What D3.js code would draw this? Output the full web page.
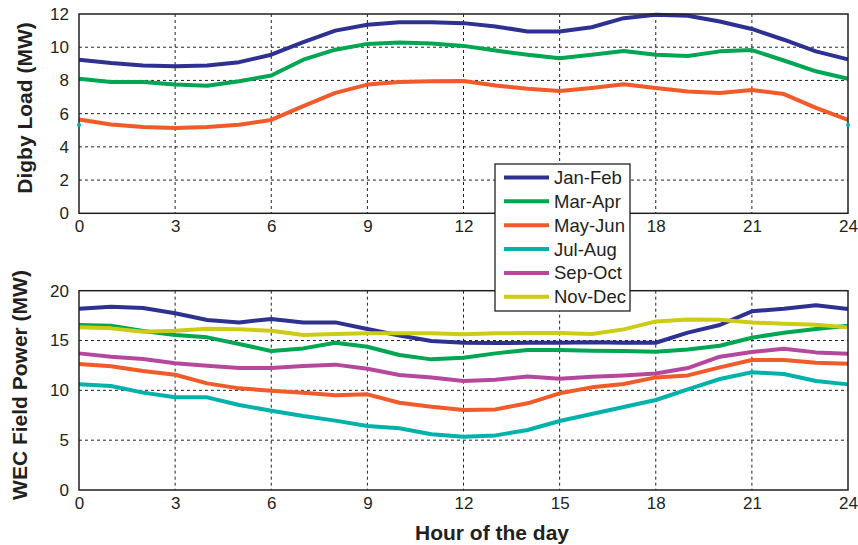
<!DOCTYPE html>
<html><head><meta charset="utf-8">
<script src="https://cdn.jsdelivr.net/npm/d3@7"></script>
<style>body{margin:0;background:#fff}svg{display:block}text{font-family:"Liberation Sans",Arial,sans-serif;fill:#231f20}</style>
</head><body><svg id="c" width="858" height="545"></svg>
<script>
const hours = d3.range(0, 25);
const seriesNames = ["Jan-Feb","Mar-Apr","May-Jun","Jul-Aug","Sep-Oct","Nov-Dec"];
const seriesColors = ["#2e3192","#00a651","#f15a29","#00b2a9","#b5489c","#cccc14"];
const xTicks = [0,3,6,9,12,15,18,21,24];
const xTicksTopShown = [0,3,6,9,12,18,21,24]; // "15" is hidden behind the legend
const loadTicks = [0,2,4,6,8,10,12];
const wecTicks = [0,5,10,15,20];

// Digby load (MW)
const loadJanFeb = [9.25,9.05,8.9,8.85,8.9,9.1,9.55,10.3,11.0,11.35,11.5,11.5,11.45,11.25,10.95,10.95,11.2,11.75,11.95,11.9,11.55,11.1,10.45,9.75,9.27];
const loadMarApr = [8.1,7.9,7.9,7.75,7.68,7.95,8.3,9.25,9.85,10.2,10.28,10.22,10.08,9.8,9.55,9.33,9.55,9.77,9.55,9.47,9.75,9.83,9.2,8.55,8.1];
const loadMayJun = [5.65,5.35,5.2,5.13,5.2,5.33,5.62,6.45,7.25,7.75,7.9,7.95,7.96,7.7,7.5,7.36,7.55,7.77,7.55,7.33,7.25,7.42,7.18,6.35,5.62];
const loadJulAugEnds = [[0,5.32],[24,5.32]];

// WEC field power (MW)
const wecJanFeb = [18.2,18.39,18.26,17.73,17.06,16.82,17.16,16.82,16.82,16.15,15.5,14.95,14.78,14.75,14.78,14.78,14.82,14.78,14.78,15.79,16.56,17.93,18.19,18.53,18.16];
const wecMarApr = [16.56,16.49,15.95,15.55,15.32,14.65,13.95,14.21,14.78,14.38,13.55,13.11,13.28,13.71,14.05,14.05,13.98,13.95,13.88,14.11,14.48,15.28,15.79,16.15,16.49];
const wecMayJun = [12.64,12.41,11.94,11.57,10.7,10.2,9.97,9.77,9.5,9.6,8.76,8.36,8.03,8.09,8.7,9.7,10.3,10.64,11.3,11.5,12.31,13.04,13.04,12.78,12.68];
const wecJulAug = [10.6,10.43,9.77,9.3,9.3,8.53,7.96,7.42,6.96,6.42,6.19,5.59,5.35,5.48,6.02,6.92,7.63,8.33,9.03,10.1,11.14,11.81,11.64,10.94,10.6];
const wecSepOct = [13.71,13.38,13.14,12.71,12.47,12.24,12.24,12.44,12.58,12.17,11.54,11.3,10.94,11.07,11.4,11.17,11.37,11.5,11.7,12.24,13.38,13.85,14.18,13.81,13.68];
const wecNovDec = [16.32,16.22,15.89,15.99,16.19,16.12,15.99,15.55,15.65,15.72,15.72,15.72,15.62,15.72,15.75,15.75,15.65,16.12,16.92,17.12,17.09,16.82,16.69,16.59,16.32];

const svg = d3.select("#c");
const L = 79, R = 848;
const x = d3.scaleLinear().domain([0,24]).range([L,R]);

function panel(top, bottom, ymax, yticks, xShown, seriesList, colorIdx, label, labelPos) {
  const y = d3.scaleLinear().domain([0,ymax]).range([bottom, top]);
  const g = svg.append("g");
  g.append("g").selectAll("line").data(xTicks.slice(1,-1)).join("line")
    .attr("x1", d=>x(d)).attr("x2", d=>x(d)).attr("y1", top).attr("y2", bottom)
    .attr("stroke","#222").attr("stroke-width",1).attr("stroke-dasharray","3,3");
  g.append("g").selectAll("line").data(yticks.slice(1,-1)).join("line")
    .attr("y1", d=>y(d)).attr("y2", d=>y(d)).attr("x1", L).attr("x2", R)
    .attr("stroke","#222").attr("stroke-width",1).attr("stroke-dasharray","3,3");
  const xa = g.append("g").attr("transform",`translate(0,${bottom})`)
    .call(d3.axisBottom(x).tickValues(xShown).tickSize(0).tickPadding(7));
  const ya = g.append("g").attr("transform",`translate(${L},0)`)
    .call(d3.axisLeft(y).tickValues(yticks).tickSize(0).tickPadding(10));
  [xa, ya].forEach(a => { a.select(".domain").remove(); a.selectAll("text").style("font-size","17px").attr("fill","#231f20").style("font-family",'"Liberation Sans",Arial,sans-serif'); });
  const line = d3.line().x((d,i)=>x(hours[i])).y(d=>y(d));
  const lg = g.append("g");
  seriesList.forEach((s, k) => {
    lg.append("path").datum(s).attr("d", line).attr("fill","none")
      .attr("stroke", seriesColors[colorIdx[k]]).attr("stroke-width",4).attr("stroke-linejoin","round");
  });
  g.append("rect").attr("x",L).attr("y",top).attr("width",R-L).attr("height",bottom-top)
    .attr("fill","none").attr("stroke","#231f20").attr("stroke-width",1.5);
  svg.append("text").attr("transform",`translate(${labelPos[0]},${labelPos[1]}) rotate(-90)`)
    .attr("text-anchor","middle").style("font-size","21px").style("font-weight","bold").text(label);
  return y;
}

const yTop = panel(14, 213.3, 12, loadTicks, xTicksTopShown, [loadJanFeb, loadMarApr, loadMayJun], [0,1,2], "Digby Load (MW)", [32,108]);
svg.selectAll(".jaEnds").data(loadJulAugEnds).join("circle")
  .attr("cx", d=>x(d[0])).attr("cy", d=>yTop(d[1])).attr("r",2).attr("fill", seriesColors[3]);

panel(290.7, 490, 20, wecTicks, xTicks, [wecJanFeb, wecMarApr, wecMayJun, wecJulAug, wecSepOct, wecNovDec], [0,1,2,3,4,5], "WEC Field Power (MW)", [27,385]);

svg.append("text").attr("x",492).attr("y",540).attr("text-anchor","middle")
  .style("font-size","21px").style("font-weight","bold").text("Hour of the day");

const lgd = svg.append("g");
lgd.append("rect").attr("x",495).attr("y",164).attr("width",135).attr("height",147)
  .attr("fill","#fff").attr("stroke","#231f20").attr("stroke-width",1.3);
const rows = lgd.selectAll("g.row").data(seriesNames).join("g").attr("class","row")
  .attr("transform",(d,i)=>`translate(0,${177.5 + i*23.85})`);
rows.append("line").attr("x1",504).attr("x2",549).attr("y1",0).attr("y2",0)
  .attr("stroke",(d,i)=>seriesColors[i]).attr("stroke-width",4);
rows.append("text").attr("x",554).attr("y",6.5).style("font-size","18.5px").text(d=>d);
</script></body></html>
